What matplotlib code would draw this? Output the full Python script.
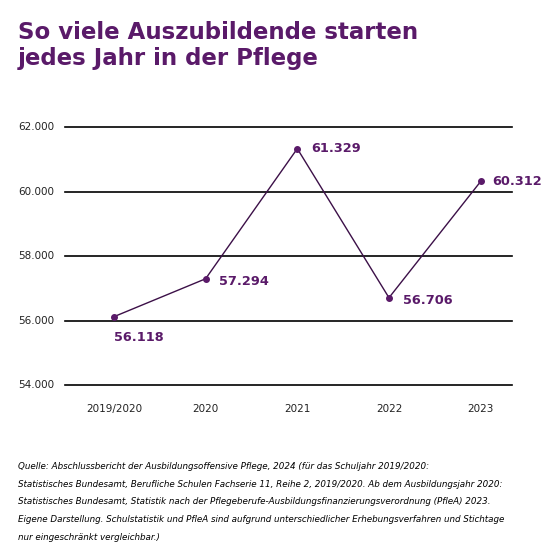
import matplotlib
matplotlib.use("Agg")
import matplotlib.pyplot as plt
import matplotlib.transforms as mtransforms

categories = ["2019/2020", "2020", "2021", "2022", "2023"]
values = [56118, 57294, 61329, 56706, 60312]
value_labels = ["56.118", "57.294", "61.329", "56.706", "60.312"]
yticks = [54000, 56000, 58000, 60000, 62000]
ytick_labels = ["54.000", "56.000", "58.000", "60.000", "62.000"]

title = "So viele Auszubildende starten\njedes Jahr in der Pflege"
source = ("Quelle: Abschlussbericht der Ausbildungsoffensive Pflege, 2024 (für das Schuljahr 2019/2020:\n"
          "Statistisches Bundesamt, Berufliche Schulen Fachserie 11, Reihe 2, 2019/2020. Ab dem Ausbildungsjahr 2020:\n"
          "Statistisches Bundesamt, Statistik nach der Pflegeberufe-Ausbildungsfinanzierungsverordnung (PfleA) 2023.\n"
          "Eigene Darstellung. Schulstatistik und PfleA sind aufgrund unterschiedlicher Erhebungsverfahren und Stichtage\n"
          "nur eingeschränkt vergleichbar.)")

purple = "#5a1a69"
line_col = "#3c1048"

fig = plt.figure(figsize=(5.6, 5.6), dpi=100)
ax = fig.add_axes([0.116, 0.3125, 0.798, 0.4607])

x = list(range(len(categories)))
ax.plot(x, values, color=line_col, lw=1.0, marker="o", ms=4, mfc=purple, mec=purple, zorder=3)

ax.set_xlim(-0.534, 4.34)
ax.set_ylim(54000, 62000)
ax.set_yticks([])
ax.set_xticks(x)
ax.set_xticklabels(categories)
for y in yticks:
    ax.axhline(y, color="black", lw=1.2, zorder=1, clip_on=False)
for s in ax.spines.values():
    s.set_visible(False)
ax.tick_params(length=0, labelsize=7.5, colors="#222222")
ax.tick_params(axis="x", pad=14)

trans = mtransforms.blended_transform_factory(fig.transFigure, ax.transData)
for y, lbl in zip(yticks, ytick_labels):
    ax.text(0.032, y, lbl, transform=trans, ha="left", va="center",
            fontsize=7.5, color="#222222", clip_on=False)

# data labels
offsets = [(0, -15, "left", "center"), (10, -2, "left", "center"), (10, 0, "left", "center"),
           (10, -2, "left", "center"), (8, 0, "left", "center")]
for xi, v, lbl, (dx, dy, ha, va) in zip(x, values, value_labels, offsets):
    ax.annotate(lbl, (xi, v), xytext=(dx, dy), textcoords="offset points",
                ha=ha, va=va, fontsize=9.3, fontweight="bold", color=purple,
                family="DejaVu Sans")

fig.text(0.032, 0.962, title, ha="left", va="top", fontsize=16.5, fontweight="bold",
         color=purple, family="DejaVu Sans", linespacing=1.15)

fig.text(0.032, 0.175, source, ha="left", va="top", fontsize=6.3, style="italic",
         color="black", family="DejaVu Sans", linespacing=2.25)

fig.savefig("out.png", dpi=100)
